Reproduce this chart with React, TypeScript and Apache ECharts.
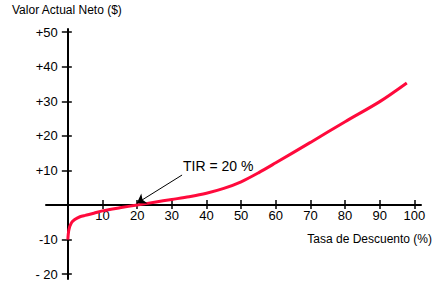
import React, { useEffect, useRef } from "react";
import * as echarts from "echarts";

const rateX = [0, 0.3, 1, 2, 3.5, 5, 7.5, 10, 15, 20, 25, 30, 35, 40, 45, 50, 55, 60, 70, 80, 90, 97.8];
const npvY = [-10, -7.2, -5.2, -4.2, -3.4, -3.0, -2.4, -1.7, -0.8, 0, 0.8, 1.6, 2.4, 3.4, 4.8, 6.7, 9.3, 12.2, 18.1, 24.1, 29.9, 35.3];

const xTickValues = [10, 20, 30, 40, 50, 60, 70, 80, 90, 100];
const yTickValues = [-20, -10, 10, 20, 30, 40, 50];
const yTickLabels = ["- 20", "-10", "+10", "+20", "+30", "+40", "+50"];

const arrowFrom = [32.96, 8.67];
const arrowTo = [19.9, 0.5];

const yTitle = "Valor Actual Neto ($)";
const xTitle = "Tasa de Descuento (%)";
const tirText = "TIR = 20 %";

const FONT = "'Liberation Sans', Arial, sans-serif";

export default function App() {
  const ref = useRef<HTMLDivElement>(null);
  useEffect(() => {
    if (!ref.current) return;
    const chart = echarts.init(ref.current, null, { renderer: "svg" });
    const xMin = -6.3, xMax = 101.9, yMin = -21.4, yMax = 50.9;
    const gridLeft = 46, gridRight = 16, gridTop = 29, gridBottom = 12;
    const gridW = 437 - gridLeft - gridRight;
    const gridH = 291 - gridTop - gridBottom;
    // shift axes from the grid edge onto the zero lines
    const xOffset = -((0 - yMin) / (yMax - yMin)) * gridH;
    const yOffset = -((0 - xMin) / (xMax - xMin)) * gridW;
    const baseX = {
      type: "value",
      min: xMin,
      max: xMax,
      position: "bottom",
      offset: xOffset,
      splitLine: { show: false },
    };
    const baseY = {
      type: "value",
      min: yMin,
      max: yMax,
      position: "left",
      offset: yOffset,
      splitLine: { show: false },
    };
    chart.setOption({
      animation: false,
      backgroundColor: "#ffffff",
      grid: { left: gridLeft, right: gridRight, top: gridTop, bottom: gridBottom, containLabel: false },
      xAxis: [
        {
          ...baseX,
          axisLine: { show: true, onZero: false, lineStyle: { color: "#000", width: 2 } },
          axisTick: { show: true, inside: false, length: 4, customValues: xTickValues, lineStyle: { color: "#000", width: 1.5 } },
          axisLabel: {
            show: true,
            customValues: xTickValues,
            margin: 4,
            color: "#000",
            fontSize: 13,
            fontFamily: FONT,
          },
        },
        {
          ...baseX,
          axisLine: { show: false, onZero: false },
          axisTick: { show: true, inside: true, length: 5, customValues: xTickValues, lineStyle: { color: "#000", width: 1.5 } },
          axisLabel: { show: false },
        },
      ],
      yAxis: [
        {
          ...baseY,
          axisLine: { show: true, onZero: false, lineStyle: { color: "#000", width: 2 } },
          axisTick: { show: true, inside: false, length: 6, customValues: yTickValues, lineStyle: { color: "#000", width: 1.5 } },
          axisLabel: {
            show: true,
            customValues: yTickValues,
            margin: 10,
            color: "#000",
            fontSize: 13,
            fontFamily: FONT,
            formatter: (v: number) => {
              const i = yTickValues.indexOf(Math.round(v));
              return i >= 0 ? yTickLabels[i] : "";
            },
          },
        },
        {
          ...baseY,
          axisLine: { show: false, onZero: false },
          axisTick: { show: true, inside: true, length: 4, customValues: yTickValues, lineStyle: { color: "#000", width: 1.5 } },
          axisLabel: { show: false },
        },
      ],
      series: [
        {
          type: "line",
          xAxisIndex: 0,
          yAxisIndex: 0,
          data: rateX.map((x, i) => [x, npvY[i]]),
          smooth: 0.3,
          showSymbol: false,
          symbol: "none",
          lineStyle: { color: "#ff0a3c", width: 3 },
          z: 3,
          markLine: {
            silent: true,
            symbol: ["none", "arrow"],
            symbolSize: 9,
            label: { show: false },
            lineStyle: { color: "#000", width: 1, type: "solid" },
            emphasis: { disabled: true },
            data: [[{ coord: arrowFrom }, { coord: arrowTo }]],
          },
        },
      ],
      graphic: [
        {
          type: "text",
          left: 12,
          top: 4,
          style: { text: yTitle, fontSize: 12, fontFamily: FONT, fill: "#000" },
        },
        {
          type: "text",
          right: 5,
          top: 233,
          style: { text: xTitle, fontSize: 12, fontFamily: FONT, fill: "#000" },
        },
        {
          type: "text",
          left: 183,
          top: 159,
          style: { text: tirText, fontSize: 14, fontFamily: FONT, fill: "#000" },
        },
      ],
    });
    return () => chart.dispose();
  }, []);
  return (
    <div
      ref={ref}
      style={{ position: "absolute", left: 0, top: 0, width: 437, height: 291, background: "#fff" }}
    />
  );
}
